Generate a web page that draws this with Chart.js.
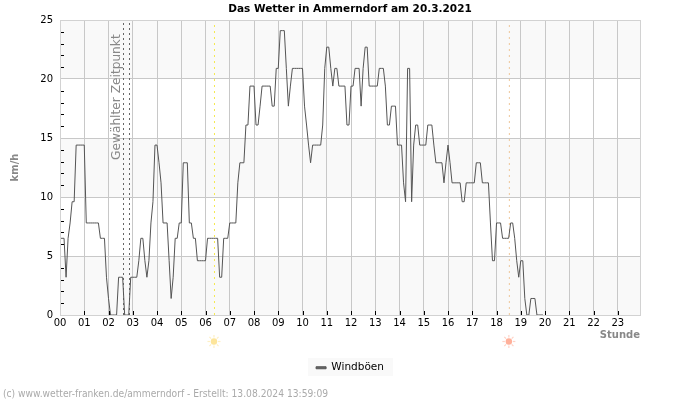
<!DOCTYPE html>
<html>
<head>
<meta charset="utf-8">
<title>Das Wetter in Ammerndorf</title>
<script src="https://cdn.jsdelivr.net/npm/chart.js@4"></script>
<style>
  html, body { margin: 0; padding: 0; background: #fff; }
  canvas { display: block; }
</style>
</head>
<body>
<canvas id="chart" width="700" height="400"></canvas>
<script>
// one row per hour, samples every 5 minutes
const gusts = [
  6.5,6.5,6.5,3.2,6.5,7.8,9.6,9.6,14.4,14.4,14.4,14.4,
  14.4,7.8,7.8,7.8,7.8,7.8,7.8,7.8,6.5,6.5,6.5,3.2,
  1.4,0,0,0,0,3.2,3.2,3.2,0,0,0,3.2,
  3.2,3.2,3.2,4.6,6.5,6.5,4.6,3.2,4.6,7.8,9.6,14.4,
  14.4,12.9,11.2,7.8,7.8,7.8,4.6,1.4,3.2,6.5,6.5,7.8,
  7.8,12.9,12.9,12.9,7.8,7.8,6.5,6.5,4.6,4.6,4.6,4.6,
  4.6,6.5,6.5,6.5,6.5,6.5,6.5,3.2,3.2,6.5,6.5,6.5,
  7.8,7.8,7.8,7.8,11.2,12.9,12.9,12.9,16.1,16.1,19.4,19.4,
  19.4,16.1,16.1,17.7,19.4,19.4,19.4,19.4,19.4,17.7,17.7,20.9,
  20.9,24.1,24.1,24.1,20.9,17.7,19.4,20.9,20.9,20.9,20.9,20.9,
  20.9,17.7,16.1,14.4,12.9,14.4,14.4,14.4,14.4,14.4,16.1,20.9,
  22.7,22.7,20.9,19.4,20.9,20.9,19.4,19.4,19.4,19.4,16.1,16.1,
  19.4,19.4,20.9,20.9,20.9,17.7,20.9,22.7,22.7,19.4,19.4,19.4,
  19.4,19.4,20.9,20.9,20.9,19.4,16.1,16.1,17.7,17.7,17.7,14.4,
  14.4,14.4,11.2,9.6,20.9,20.9,9.6,14.4,16.1,16.1,14.4,14.4,
  14.4,14.4,16.1,16.1,16.1,14.4,12.9,12.9,12.9,12.9,11.2,12.9,
  14.4,12.9,11.2,11.2,11.2,11.2,11.2,9.6,9.6,11.2,11.2,11.2,
  11.2,11.2,12.9,12.9,12.9,11.2,11.2,11.2,11.2,7.8,4.6,4.6,
  7.8,7.8,7.8,6.5,6.5,6.5,6.5,7.8,7.8,6.5,4.6,3.2,
  4.6,4.6,1.4,0,0,1.4,1.4,1.4,0,0,0,0
];
const hourLabels = ['00','01','02','03','04','05','06','07','08','09','10','11',
  '12','13','14','15','16','17','18','19','20','21','22','23'];
const selectedTimes = [2.619, 2.866];
const sunrise = 6.37;
const sunset = 18.53;
const shadedBands = [[0, 5], [10, 15], [20, 25]];

const X_MAX = 287 / 12;
const Y_MAX = 25;
const FONT = '"DejaVu Sans"';
const CONDENSED = '"DejaVu Sans Condensed"';

function marker(hour, color, dash) {
  return {
    label: 'marker',
    data: [{ x: hour, y: 0 }, { x: hour, y: Y_MAX }],
    borderColor: color,
    borderWidth: 1,
    borderDash: dash,
    pointRadius: 0
  };
}

function drawSun(ctx, x, y, core, ray) {
  ctx.save();
  ctx.strokeStyle = ray;
  ctx.lineWidth = 1.2;
  for (let a = 0; a < 8; a++) {
    const angle = a * Math.PI / 4;
    ctx.beginPath();
    ctx.moveTo(x + Math.cos(angle) * 4, y + Math.sin(angle) * 4);
    ctx.lineTo(x + Math.cos(angle) * 6.5, y + Math.sin(angle) * 6.5);
    ctx.stroke();
  }
  ctx.fillStyle = core;
  ctx.beginPath();
  ctx.arc(x, y, 3.2, 0, Math.PI * 2);
  ctx.fill();
  ctx.restore();
}

const backdrop = {
  id: 'backdrop',
  beforeDraw(chart) {
    const { ctx, chartArea: area, scales: { y } } = chart;
    ctx.save();
    ctx.fillStyle = '#f9f9f9';
    shadedBands.forEach(([from, to]) => {
      ctx.fillRect(area.left, y.getPixelForValue(to), area.width, y.getPixelForValue(from) - y.getPixelForValue(to));
    });
    ctx.fillRect(308, 358, 85, 18);
    ctx.restore();
  }
};

const overlay = {
  id: 'overlay',
  afterDatasetsDraw(chart) {
    const { ctx, chartArea: area, scales: { x, y } } = chart;
    ctx.save();

    // frame goes over the line, so samples at 0 disappear into the axis
    ctx.strokeStyle = '#d2d2d2';
    ctx.lineWidth = 1;
    ctx.strokeRect(Math.round(area.left) + 0.5, Math.round(area.top) + 0.5, Math.round(area.width), Math.round(area.height));

    ctx.strokeStyle = '#000';
    ctx.beginPath();
    for (let v = 1; v < Y_MAX; v++) {
      if (v % 5 === 0) continue;
      const py = Math.round(y.getPixelForValue(v)) + 0.5;
      ctx.moveTo(area.left + 1, py);
      ctx.lineTo(area.left + 4, py);
    }
    hourLabels.forEach((label, h) => {
      if (h === 0) return;
      const px = Math.round(x.getPixelForValue(h)) + 0.5;
      ctx.moveTo(px, area.bottom);
      ctx.lineTo(px, area.bottom - 4);
    });
    ctx.stroke();

    ctx.fillStyle = '#888';
    ctx.font = '12.2px ' + FONT;
    ctx.textAlign = 'left';
    ctx.textBaseline = 'middle';
    ctx.translate(x.getPixelForValue(selectedTimes[0]) - 7, 160);
    ctx.rotate(-Math.PI / 2);
    ctx.fillText('Gewählter Zeitpunkt', 0, 0);
    ctx.restore();
  },
  afterDraw(chart) {
    const { ctx, scales: { x } } = chart;
    drawSun(ctx, x.getPixelForValue(sunrise) - 0.5, 341.5, '#fde59a', '#feefc4');
    drawSun(ctx, x.getPixelForValue(sunset) - 0.5, 341.5, '#ffb09a', '#ffd2c6');
    ctx.save();
    ctx.fillStyle = '#aaa';
    ctx.font = '10.2px ' + CONDENSED;
    ctx.textAlign = 'left';
    ctx.textBaseline = 'middle';
    ctx.fillText('(c) www.wetter-franken.de/ammerndorf - Erstellt: 13.08.2024 13:59:09', 3, 394);
    ctx.restore();
  }
};

new Chart(document.getElementById('chart'), {
  type: 'line',
  data: {
    datasets: [
      {
        label: 'Windböen',
        data: gusts.map((v, i) => ({ x: i / 12, y: v })),
        borderColor: '#555',
        backgroundColor: '#666',
        borderWidth: 1,
        pointRadius: 0,
        tension: 0
      },
      marker(selectedTimes[0], '#666', [2, 3]),
      marker(selectedTimes[1], '#666', [2, 3]),
      marker(sunrise, '#f5e94e', [2, 4]),
      marker(sunset, '#eec79a', [2, 4])
    ]
  },
  plugins: [backdrop, overlay],
  options: {
    responsive: false,
    animation: false,
    layout: { padding: { left: 0, right: 0, top: 0, bottom: 17 } },
    plugins: {
      title: {
        display: true,
        text: 'Das Wetter in Ammerndorf am 20.3.2021',
        color: '#000',
        font: { family: FONT, size: 10.5, weight: 'bold', lineHeight: 1.2 },
        padding: { top: 3, bottom: 4.4 }
      },
      legend: {
        position: 'bottom',
        labels: {
          color: '#000',
          font: { family: FONT, size: 10.5 },
          boxWidth: 10,
          boxHeight: 2,
          padding: 4,
          filter: item => item.text !== 'marker'
        }
      },
      tooltip: { enabled: false }
    },
    scales: {
      x: {
        type: 'linear',
        min: 0,
        max: X_MAX,
        afterFit(scale) { scale.height = 400 - 17 - scale.chart.legend.height - 315; },
        grid: { color: '#c8c8c8', drawTicks: false },
        border: { display: false },
        ticks: {
          stepSize: 1,
          includeBounds: false,
          autoSkip: false,
          maxRotation: 0,
          padding: 2,
          color: '#000',
          font: { family: FONT, size: 10 },
          callback: value => hourLabels[value]
        },
        title: {
          display: true,
          text: 'Stunde',
          align: 'end',
          color: '#888',
          font: { family: FONT, size: 10, weight: 'bold' },
          padding: { top: 0, bottom: 17 }
        }
      },
      y: {
        min: 0,
        max: Y_MAX,
        afterFit(scale) { scale.width = 60; },
        grid: { color: '#c8c8c8', drawTicks: false },
        border: { display: false },
        ticks: {
          stepSize: 5,
          padding: 7,
          color: '#000',
          font: { family: FONT, size: 10 }
        },
        title: {
          display: true,
          text: 'km/h',
          color: '#888',
          font: { family: FONT, size: 10, weight: 'bold' },
          padding: { top: 9, bottom: 0 }
        }
      },
      // empty right margin, keeps title and legend centred on the page
      margin: {
        axis: 'y',
        position: 'right',
        afterFit(scale) { scale.width = 60; },
        grid: { display: false },
        border: { display: false },
        ticks: { display: false }
      }
    }
  }
});
</script>
</body>
</html>
